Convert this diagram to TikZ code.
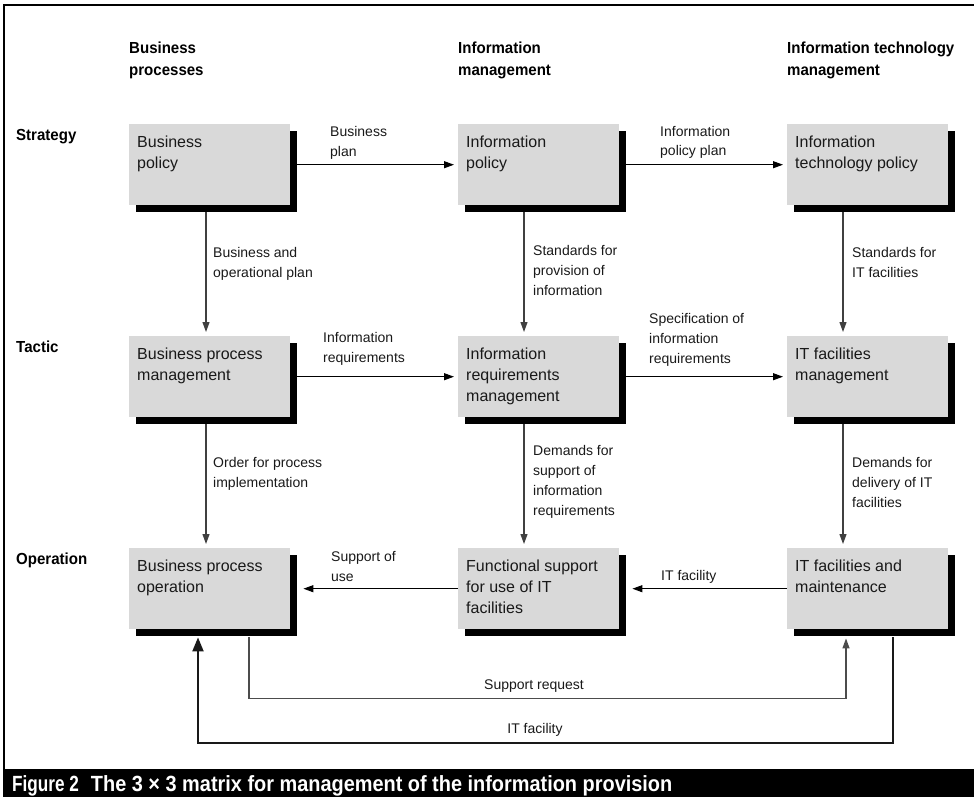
\documentclass[tikz,border=0pt]{standalone}
\usepackage{fontspec}
\setmainfont{Liberation Sans}
\newfontfamily\hdfont[FakeStretch=0.94]{Liberation Sans}
\newfontfamily\capfonta[FakeStretch=0.78]{Liberation Sans}
\newfontfamily\capfontb[FakeStretch=0.905]{Liberation Sans}
\usetikzlibrary{arrows.meta,shadows}
\newcommand\mylines[1]{\begin{tabular}[t]{@{}l@{}}#1\end{tabular}}
\tikzset{
  mbox/.style={fill=black!15, minimum width=161pt, minimum height=81pt, anchor=north west, inner sep=0pt,
    drop shadow={shadow xshift=7pt, shadow yshift=-7pt, fill=black, opacity=1}},
  btxt/.style={font=\fontsize{16}{21}\selectfont, text=black!90, anchor=base west, inner sep=0pt},
  lbl/.style={font=\fontsize{14}{20}\selectfont, text=black!90, anchor=base west, inner sep=0pt},
  hdr/.style={font=\hdfont\bfseries\fontsize{16}{22}\selectfont, anchor=base west, inner sep=0pt},
  harr/.style={-{Triangle[length=10pt,width=7pt]}, line width=1.1pt, draw=black},
  varr/.style={-{Triangle[length=10pt,width=7pt]}, line width=1.1pt, draw=black!75},
  sarr/.style={-{Triangle[length=10pt,width=7pt]}, line width=1.3pt, draw=black!70},
  barr/.style={-{Triangle[length=14pt,width=11pt]}, line width=2pt, draw=black!90},
}
\begin{document}
\begin{tikzpicture}[x=1pt,y=-1pt]
\useasboundingbox (0,0) rectangle (974,797);
% frame
\draw[line width=2.5pt] (4,769) -- (4,5) -- (974,5);
% caption bar
\fill[black] (3,769) rectangle (974,797);
\node[anchor=base west, inner sep=0pt, text=white, font=\bfseries\fontsize{22}{26}\selectfont] (cap) at (12,791)
  {{\capfonta\bfseries Figure 2}\hspace{12pt}{\capfontb\bfseries The 3 × 3 matrix for management of the information provision}};
% column headers
\node[hdr] (h1) at (129,54) {\mylines{Business\\processes}};
\node[hdr] (h2) at (458,54) {\mylines{Information\\management}};
\node[hdr] (h3) at (787,54) {\mylines{Information technology\\management}};
% row labels
\node[hdr] (r1) at (16,140) {Strategy};
\node[hdr] (r2) at (16,352) {Tactic};
\node[hdr] (r3) at (16,564) {Operation};
% boxes
\node[mbox] (b11) at (129,124) {};
\node[mbox] (b12) at (458,124) {};
\node[mbox] (b13) at (787,124) {};
\node[mbox] (b21) at (129,336) {};
\node[mbox] (b22) at (458,336) {};
\node[mbox] (b23) at (787,336) {};
\node[mbox] (b31) at (129,548) {};
\node[mbox] (b32) at (458,548) {};
\node[mbox] (b33) at (787,548) {};
% box texts
\node[btxt] (t11) at (137,147) {\mylines{Business\\policy}};
\node[btxt] (t12) at (466,147) {\mylines{Information\\policy}};
\node[btxt] (t13) at (795,147) {\mylines{Information\\technology policy}};
\node[btxt] (t21) at (137,359) {\mylines{Business process\\management}};
\node[btxt] (t22) at (466,359) {\mylines{Information\\requirements\\management}};
\node[btxt] (t23) at (795,359) {\mylines{IT facilities\\management}};
\node[btxt] (t31) at (137,571) {\mylines{Business process\\operation}};
\node[btxt] (t32) at (466,571) {\mylines{Functional support\\for use of IT\\facilities}};
\node[btxt] (t33) at (795,571) {\mylines{IT facilities and\\maintenance}};
% horizontal arrows
\draw[harr] ([shift={(7,0)}]b11.east) -- ([shift={(-4,0)}]b12.west);
\draw[harr] ([shift={(7,0)}]b12.east) -- ([shift={(-4,0)}]b13.west);
\draw[harr] ([shift={(7,0)}]b21.east) -- ([shift={(-4,0)}]b22.west);
\draw[harr] ([shift={(7,0)}]b22.east) -- ([shift={(-4,0)}]b23.west);
\draw[harr] (b32.west) -- ([shift={(13,0)}]b31.east);
\draw[harr] (b33.west) -- ([shift={(13,0)}]b32.east);
% vertical arrows
\draw[varr] ([shift={(77,7)}]b11.south west) -- ([shift={(77,-4)}]b21.north west);
\draw[varr] ([shift={(66,7)}]b12.south west) -- ([shift={(66,-4)}]b22.north west);
\draw[varr] ([shift={(56,7)}]b13.south west) -- ([shift={(56,-4)}]b23.north west);
\draw[varr] ([shift={(77,7)}]b21.south west) -- ([shift={(77,-4)}]b31.north west);
\draw[varr] ([shift={(66,7)}]b22.south west) -- ([shift={(66,-4)}]b32.north west);
\draw[varr] ([shift={(56,7)}]b23.south west) -- ([shift={(56,-4)}]b33.north west);
% bottom loops
\draw[sarr] ([shift={(120,8)}]b31.south west) -- ++(0,61) -| ([shift={(59,9)}]b33.south west);
\draw[barr] ([shift={(106,8)}]b33.south west) -- ++(0,106) -| ([shift={(69,8)}]b31.south west);
% arrow labels
\node[lbl] (l1) at (330,137) {\mylines{Business\\plan}};
\node[lbl] (l2) at (660,136) {\mylines{Information\\policy plan}};
\node[lbl] (l3) at (323,342) {\mylines{Information\\requirements}};
\node[lbl] (l4) at (649,323) {\mylines{Specification of\\information\\requirements}};
\node[lbl] (l5) at (331,561) {\mylines{Support of\\use}};
\node[lbl] (l6) at (661,580) {IT facility};
\node[lbl] (v1) at (213,257) {\mylines{Business and\\operational plan}};
\node[lbl] (v2) at (533,255) {\mylines{Standards for\\provision of\\information}};
\node[lbl] (v3) at (852,257) {\mylines{Standards for\\IT facilities}};
\node[lbl] (v4) at (213,467) {\mylines{Order for process\\implementation}};
\node[lbl] (v5) at (533,455) {\mylines{Demands for\\support of\\information\\requirements}};
\node[lbl] (v6) at (852,467) {\mylines{Demands for\\delivery of IT\\facilities}};
\node[lbl, anchor=base] (l7) at (534,689) {Support request};
\node[lbl, anchor=base] (l8) at (535,733) {IT facility};
\end{tikzpicture}
\end{document}
